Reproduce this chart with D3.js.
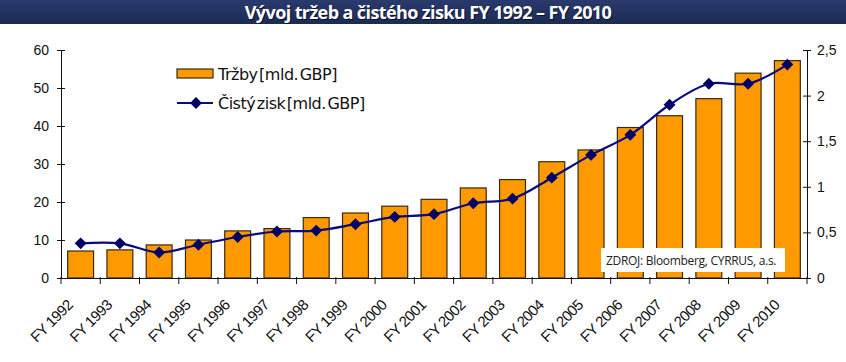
<!DOCTYPE html>
<html lang="cs">
<head>
    <meta charset="UTF-8">
    <title>Vývoj tržeb a čistého zisku</title>
    <script src="https://d3js.org/d3.v7.min.js"></script>
    <style>
        body { margin: 0; background: #fff; }
        svg { display: block; font-family: "DejaVu Sans", sans-serif; }
        .axis text { font-size: 14px; fill: #111; }
        .axis path, .axis line { stroke: #111; }
        .legend text { font-size: 16px; letter-spacing: -0.5px; word-spacing: -3px; fill: #111; }
    </style>
</head>
<body>
    <svg width="846" height="362"></svg>
    <script>
        const years = ["FY 1992", "FY 1993", "FY 1994", "FY 1995", "FY 1996", "FY 1997", "FY 1998",
            "FY 1999", "FY 2000", "FY 2001", "FY 2002", "FY 2003", "FY 2004", "FY 2005",
            "FY 2006", "FY 2007", "FY 2008", "FY 2009", "FY 2010"];
        const trzby = [7.1, 7.4, 8.7, 10.0, 12.4, 13.0, 15.9, 17.1, 18.9, 20.7, 23.7, 25.9,
            30.6, 33.7, 39.6, 42.7, 47.2, 53.9, 57.2];
        const zisk = [0.38, 0.38, 0.28, 0.365, 0.45, 0.51, 0.52, 0.59, 0.67, 0.70, 0.82, 0.87,
            1.10, 1.35, 1.57, 1.90, 2.13, 2.13, 2.34];
        const leftTicks = [0, 10, 20, 30, 40, 50, 60];
        const rightTicks = [0, 0.5, 1, 1.5, 2, 2.5];

        const svg = d3.select("svg");
        const width = 846;
        const margins = { top: 50, bottom: 84, left: 61, right: 39 };
        const plotBottom = 278;
        const title = "Vývoj tržeb a čistého zisku FY 1992 – FY 2010";

        // title bar
        const grad = svg.append("defs").append("linearGradient")
            .attr("id", "tg").attr("x1", 0).attr("y1", 0).attr("x2", 0).attr("y2", 1);
        grad.append("stop").attr("offset", "0%").attr("stop-color", "#2a3a6c");
        grad.append("stop").attr("offset", "100%").attr("stop-color", "#1c2a55");
        svg.append("rect").attr("x", 0).attr("y", 0).attr("width", width).attr("height", 24)
            .attr("fill", "url(#tg)");
        [["#000", 0.6, 1], ["#fff", 1, 0]].forEach(([col, op, off]) => {
            svg.append("text")
                .attr("x", 428 + off).attr("y", 18.5 + off)
                .attr("text-anchor", "middle")
                .attr("fill", col).attr("opacity", op)
                .style("font-family", "'Open Sans', sans-serif")
                .style("font-size", "18px").style("font-weight", "bold").style("letter-spacing", "-0.6px")
                .text(title);
        });

        const x = d3.scaleBand()
            .domain(years)
            .range([margins.left, width - margins.right])
            .paddingInner(0.34).paddingOuter(0.17);

        const band = (width - margins.left - margins.right) / years.length;

        const yL = d3.scaleLinear().domain([0, 60]).range([plotBottom, margins.top]);
        const yR = d3.scaleLinear().domain([0, 2.5]).range([plotBottom, margins.top]);

        // bars
        svg.append("g").selectAll("rect")
            .data(trzby)
            .join("rect")
            .attr("x", (d, i) => x(years[i]))
            .attr("y", d => yL(d))
            .attr("width", x.bandwidth())
            .attr("height", d => yL(0) - yL(d))
            .attr("fill", "#ff9900")
            .attr("stroke", "#3a2a10")
            .attr("stroke-width", 1.2);

        // source box
        const src = svg.append("g").attr("transform", "translate(601,248)");
        src.append("rect").attr("width", 184).attr("height", 24).attr("fill", "#fff");
        src.append("text").attr("x", 5).attr("y", 16.5)
            .style("font-family", "'Open Sans', sans-serif")
            .style("font-size", "12px").style("letter-spacing", "-0.3px").attr("fill", "#222")
            .text("ZDROJ: Bloomberg, CYRRUS, a.s.");

        // line
        const cx = i => x(years[i]) + x.bandwidth() / 2;
        svg.append("path")
            .datum(zisk)
            .attr("d", d3.line()
                .x((d, i) => cx(i))
                .y(d => yR(d))
                .curve(d3.curveCatmullRom.alpha(0.5)))
            .attr("fill", "none")
            .attr("stroke", "#0a0a80")
            .attr("stroke-width", 2.2);

        const diamond = d3.symbol().type(d3.symbolDiamond2).size(90);
        svg.append("g").selectAll("path")
            .data(zisk)
            .join("path")
            .attr("d", diamond)
            .attr("transform", (d, i) => `translate(${cx(i)},${yR(d)})`)
            .attr("fill", "#000066");

        // axes
        const axisLeft = svg.append("g").attr("class", "axis")
            .attr("transform", `translate(${margins.left},0)`)
            .call(d3.axisLeft(yL).tickValues(leftTicks).tickSize(4).tickSizeOuter(0).tickPadding(8));
        axisLeft.selectAll(".tick line").attr("x2", 4).attr("x1", -4);

        const axisRight = svg.append("g").attr("class", "axis")
            .attr("transform", `translate(${width - margins.right},0)`)
            .call(d3.axisRight(yR).tickValues(rightTicks).tickSize(4).tickSizeOuter(0).tickPadding(6)
                .tickFormat(d => String(d).replace(".", ",")));
        axisRight.selectAll(".tick line").attr("x1", -4).attr("x2", 4);

        const xAxis = svg.append("g").attr("class", "axis")
            .attr("transform", `translate(0,${plotBottom})`)
            .call(d3.axisBottom(x).tickSize(0).tickSizeOuter(0));
        xAxis.selectAll(".tick text")
            .attr("text-anchor", "end")
            .attr("y", 0)
            .attr("dy", 0)
            .attr("transform", "translate(-7,28) rotate(-45)")
            .style("font-size", "15px")
            .style("letter-spacing", "-0.6px");
        // category separators
        xAxis.append("g").selectAll("line")
            .data(d3.range(years.length + 1))
            .join("line")
            .attr("x1", i => margins.left + i * band)
            .attr("x2", i => margins.left + i * band)
            .attr("y1", -1).attr("y2", 6)
            .attr("stroke", "#111");

        // legend
        const legend = svg.append("g").attr("class", "legend").attr("transform", "translate(177,69)");
        legend.append("rect").attr("width", 36).attr("height", 9)
            .attr("fill", "#ff9900").attr("stroke", "#3a2a10").attr("stroke-width", 1.2);
        legend.append("text").attr("x", 41).attr("y", 10.5).text("Tržby [mld. GBP]");
        legend.append("line").attr("x1", 0).attr("x2", 36).attr("y1", 34).attr("y2", 34)
            .attr("stroke", "#0a0a80").attr("stroke-width", 2.2);
        legend.append("path").attr("d", diamond).attr("transform", "translate(19,34)").attr("fill", "#000066");
        legend.append("text").attr("x", 41).attr("y", 40).text("Čistý zisk [mld. GBP]");
    </script>
</body>
</html>
